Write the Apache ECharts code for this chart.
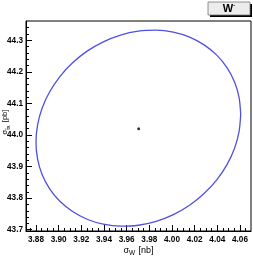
<!DOCTYPE html>
<html><head><meta charset="utf-8">
<script src="https://cdn.jsdelivr.net/npm/echarts@6/dist/echarts.min.js"></script>
<style>html,body{margin:0;padding:0;background:#fff}#c{width:253px;height:258px}</style>
</head><body><div id="c"></div>
<script>
// Contour (1-sigma ellipse) points: sigma_W [nb], sigma [pb]
const contourX = [4.0606,4.0592,4.0552,4.0485,4.0395,4.0283,4.0155,4.0012,3.9860,3.9703,3.9546,3.9394,3.9251,3.9123,3.9011,3.8921,3.8854,3.8814,3.8800,3.8814,3.8854,3.8921,3.9011,3.9123,3.9251,3.9394,3.9546,3.9703,3.9860,4.0012,4.0155,4.0283,4.0395,4.0485,4.0552,4.0592,4.0606];
const contourY = [44.0658,44.1185,44.1682,44.2135,44.2530,44.2854,44.3098,44.3255,44.3318,44.3288,44.3165,44.2951,44.2655,44.2285,44.1851,44.1368,44.0850,44.0313,43.9772,43.9245,43.8748,43.8295,43.7900,43.7576,43.7332,43.7175,43.7112,43.7142,43.7265,43.7479,43.7775,43.8145,43.8579,43.9062,43.9580,44.0117,44.0658];
const centralX = [3.9706];
const centralY = [44.020];
const xMajorTicks = [3.88,3.90,3.92,3.94,3.96,3.98,4.00,4.02,4.04,4.06];
const xMinorTicks = [3.875,3.885,3.89,3.895,3.905,3.91,3.915,3.925,3.93,3.935,3.945,3.95,3.955,3.965,3.97,3.975,3.985,3.99,3.995,4.005,4.01,4.015,4.025,4.03,4.035,4.045,4.05,4.055,4.065];
const yMajorTicks = [43.7,43.8,43.9,44.0,44.1,44.2,44.3];
const yMinorTicks = [43.72,43.74,43.76,43.78,43.82,43.84,43.86,43.88,43.92,43.94,43.96,43.98,44.02,44.04,44.06,44.08,44.12,44.14,44.16,44.18,44.22,44.24,44.26,44.28,44.32,44.34];
const xRange = [3.8712, 4.0697];
const yRange = [43.696, 44.361];
const legendText = 'W';
const yTitleSymbol = 'σ', yTitleSub = 't̄x', yTitleUnit = '[pb]';

const FONT = 'Liberation Sans';
const chart = echarts.init(document.getElementById('c'), null, {renderer:'canvas'});
const lbl = {fontFamily:FONT, fontWeight:'bold', fontSize:8.2, color:'#000'};
function baseAxis(range){return {type:'value', min:range[0], max:range[1], scale:true, splitLine:{show:false}};}
chart.setOption({
  animation:false,
  backgroundColor:'#fff',
  grid:{left:26, right:2, top:21, bottom:27, outerBoundsMode:'none', containLabel:false, show:true, borderColor:'#000', borderWidth:1, backgroundColor:'transparent'},
  xAxis:[
    Object.assign(baseAxis(xRange), {
      position:'bottom',
      axisLine:{show:true, lineStyle:{color:'#000', width:1}},
      axisTick:{show:true, inside:true, length:6, customValues:xMajorTicks, lineStyle:{color:'#000'}},
      axisLabel:Object.assign({customValues:xMajorTicks, margin:5, formatter:v=>v.toFixed(2)}, lbl),
      name:'{s|σ}{sub|W} {s|[nb]}', nameLocation:'middle', nameGap:14, nameMoveOverlap:false,
      nameTextStyle:{rich:{s:{fontFamily:FONT, fontSize:9, color:'#000'}, sub:{fontFamily:FONT, fontSize:6.5, color:'#000', verticalAlign:'bottom', padding:[5,0,0,0]}}}
    }),
    Object.assign(baseAxis(xRange), {
      position:'bottom', axisLine:{show:false},
      axisTick:{show:true, inside:true, length:3, customValues:xMinorTicks, lineStyle:{color:'#000'}},
      axisLabel:{show:false}
    })
  ],
  yAxis:[
    Object.assign(baseAxis(yRange), {
      position:'left',
      axisLine:{show:true, lineStyle:{color:'#000', width:1}},
      axisTick:{show:true, inside:true, length:6, customValues:yMajorTicks, lineStyle:{color:'#000'}},
      axisLabel:Object.assign({customValues:yMajorTicks, margin:3, formatter:v=>v.toFixed(1)}, lbl)
    }),
    Object.assign(baseAxis(yRange), {
      position:'left', axisLine:{show:false},
      axisTick:{show:true, inside:true, length:3, customValues:yMinorTicks, lineStyle:{color:'#000'}},
      axisLabel:{show:false}
    })
  ],
  series:[
    {type:'line', xAxisIndex:0, yAxisIndex:0, data:contourX.map((x,i)=>[x,contourY[i]]), showSymbol:false, smooth:0.3,
     lineStyle:{color:'#5050e0', width:1.3}},
    {type:'scatter', xAxisIndex:0, yAxisIndex:0, data:centralX.map((x,i)=>[x,centralY[i]]), symbol:'circle', symbolSize:3,
     itemStyle:{color:'#000'}}
  ],
  graphic:[
    {type:'text', x:5, y:122, rotation:Math.PI/2, z:12, style:{text:'{s|'+yTitleSymbol+'}{sub|'+yTitleSub+'} {s|'+yTitleUnit+'}', align:'center', verticalAlign:'middle',
      rich:{s:{fontFamily:FONT, fontSize:7.5, fill:'#000'}, sub:{fontFamily:FONT, fontSize:5.5, fill:'#000', verticalAlign:'bottom', padding:[4,0,0,0]}}}},
    {type:'rect', shape:{x:210, y:4, width:42, height:13}, style:{fill:'#000'}, z:10},
    {type:'rect', shape:{x:208, y:2, width:42, height:13}, style:{fill:'#ececec', stroke:'#777', lineWidth:0.8}, z:11},
    {type:'text', x:229, y:8.8, z:12, style:{text:'{b|'+legendText+'}{sup|-}', align:'center', verticalAlign:'middle',
      rich:{b:{fontFamily:FONT, fontWeight:'bold', fontSize:11, fill:'#000'}, sup:{fontFamily:FONT, fontWeight:'bold', fontSize:6, fill:'#000', verticalAlign:'top', padding:[0,0,6,0]}}}}
  ]
});
</script></body></html>
